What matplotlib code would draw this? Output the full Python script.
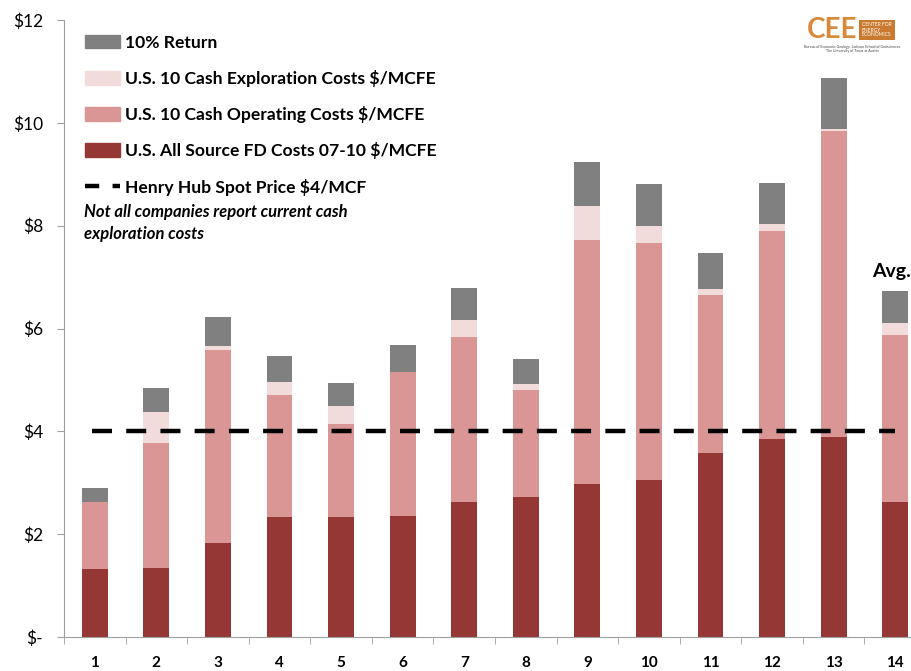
import numpy as np
import matplotlib.pyplot as plt
from matplotlib.patches import Patch
from matplotlib.lines import Line2D

plt.rcParams['font.family'] = ['Lato', 'DejaVu Sans']

# data ($/MCFE, cumulative tops)
companies = ['1', '2', '3', '4', '5', '6', '7', '8', '9', '10', '11', '12', '13', '14']
fd_costs = [1.33, 1.35, 1.83, 2.33, 2.33, 2.35, 2.63, 2.72, 2.98, 3.05, 3.58, 3.85, 3.89, 2.63]
op_top = [2.62, 3.77, 5.58, 4.71, 4.14, 5.15, 5.83, 4.80, 7.72, 7.66, 6.65, 7.90, 9.84, 5.87]
expl_top = [2.62, 4.38, 5.66, 4.96, 4.49, 5.15, 6.16, 4.92, 8.38, 7.99, 6.77, 8.03, 9.88, 6.11]
ret_top = [2.90, 4.84, 6.22, 5.46, 4.94, 5.68, 6.79, 5.41, 9.24, 8.81, 7.47, 8.83, 10.87, 6.73]
henry_hub = 4.0
y_ticks = [0, 2, 4, 6, 8, 10, 12]
y_labels = ['$-', '$2', '$4', '$6', '$8', '$10', '$12']

fd_costs = np.array(fd_costs)
op = np.array(op_top) - fd_costs
expl = np.array(expl_top) - np.array(op_top)
ret = np.array(ret_top) - np.array(expl_top)

c_fd = '#953735'
c_op = '#D99694'
c_ex = '#F2DCDB'
c_ret = '#808080'

fig = plt.figure(figsize=(9.11, 6.71), dpi=100)
ax = fig.add_axes([64/911, 34/671, 862/911, 617/671])

x = np.arange(len(companies))
w = 0.42
ax.bar(x, fd_costs, w, color=c_fd)
ax.bar(x, op, w, bottom=fd_costs, color=c_op)
ax.bar(x, expl, w, bottom=fd_costs + op, color=c_ex)
ax.bar(x, ret, w, bottom=fd_costs + op + expl, color=c_ret)

ax.plot([-0.05, 13.0], [henry_hub, henry_hub], color='black', lw=3.2,
        dashes=(4.5, 3.2), zorder=5)

ax.set_xlim(-0.5, 13.5)
ax.set_ylim(0, 12)
ax.set_yticks(y_ticks)
ax.set_yticklabels(y_labels, fontsize=12.5)
ax.set_xticks(x)
ax.set_xticklabels(companies, fontsize=11, fontweight='bold')
ax.set_xticks(np.arange(-0.5, 13.6, 1), minor=True)
ax.tick_params(axis='x', which='major', length=0, pad=14)
ax.tick_params(axis='x', which='minor', length=5, color='#a0a0a0')
ax.tick_params(axis='y', length=5, color='#a0a0a0', pad=10)
for s in ['top', 'right']:
    ax.spines[s].set_visible(False)
ax.spines['left'].set_color('#a0a0a0')
ax.spines['bottom'].set_color('#a0a0a0')

fig.text(872/911, 1 - 272/671, 'Avg.', fontsize=14, fontweight='bold', ha='left', va='center')

handles = [Patch(color=c_ret), Patch(color=c_ex), Patch(color=c_op), Patch(color=c_fd),
           Line2D([], [], color='black', lw=3.2, dashes=(3.2, 3.0))]
labels = ['10% Return', 'U.S. 10 Cash Exploration Costs $/MCFE',
          'U.S. 10 Cash Operating Costs $/MCFE', 'U.S. All Source FD Costs 07-10 $/MCFE',
          'Henry Hub Spot Price $4/MCF']
leg = ax.legend(handles, labels, loc='upper left', bbox_to_anchor=(0.006, 1.002),
                frameon=False, prop={'weight': 'bold', 'size': 12.6},
                handlelength=2.0, handleheight=0.85, handletextpad=0.3, labelspacing=1.1)

fig.text(84/911, 1 - 223/671, 'Not all companies report current cash\nexploration costs',
         fontsize=12, fontweight='bold', style='italic', va='center', linespacing=1.4)

# CEE logo, as text
fig.text(857/911, 1 - 30/671, 'CEE', fontsize=20, fontweight='bold', color='#D9893A',
         va='center', ha='right')
fig.text(862/911, 1 - 30/671, 'CENTER FOR\nENERGY\nECONOMICS', fontsize=3.5, color='white',
         va='center', ha='left', linespacing=1.0,
         bbox=dict(boxstyle='square,pad=0.6', fc='#C97A2E', ec='none'))
fig.text(852/911, 1 - 49/671, 'Bureau of Economic Geology, Jackson School of Geosciences\nThe University of Texas at Austin',
         fontsize=2.6, color='#444444', ha='center', va='center', linespacing=1.0)

fig.savefig('out.png', dpi=100)
